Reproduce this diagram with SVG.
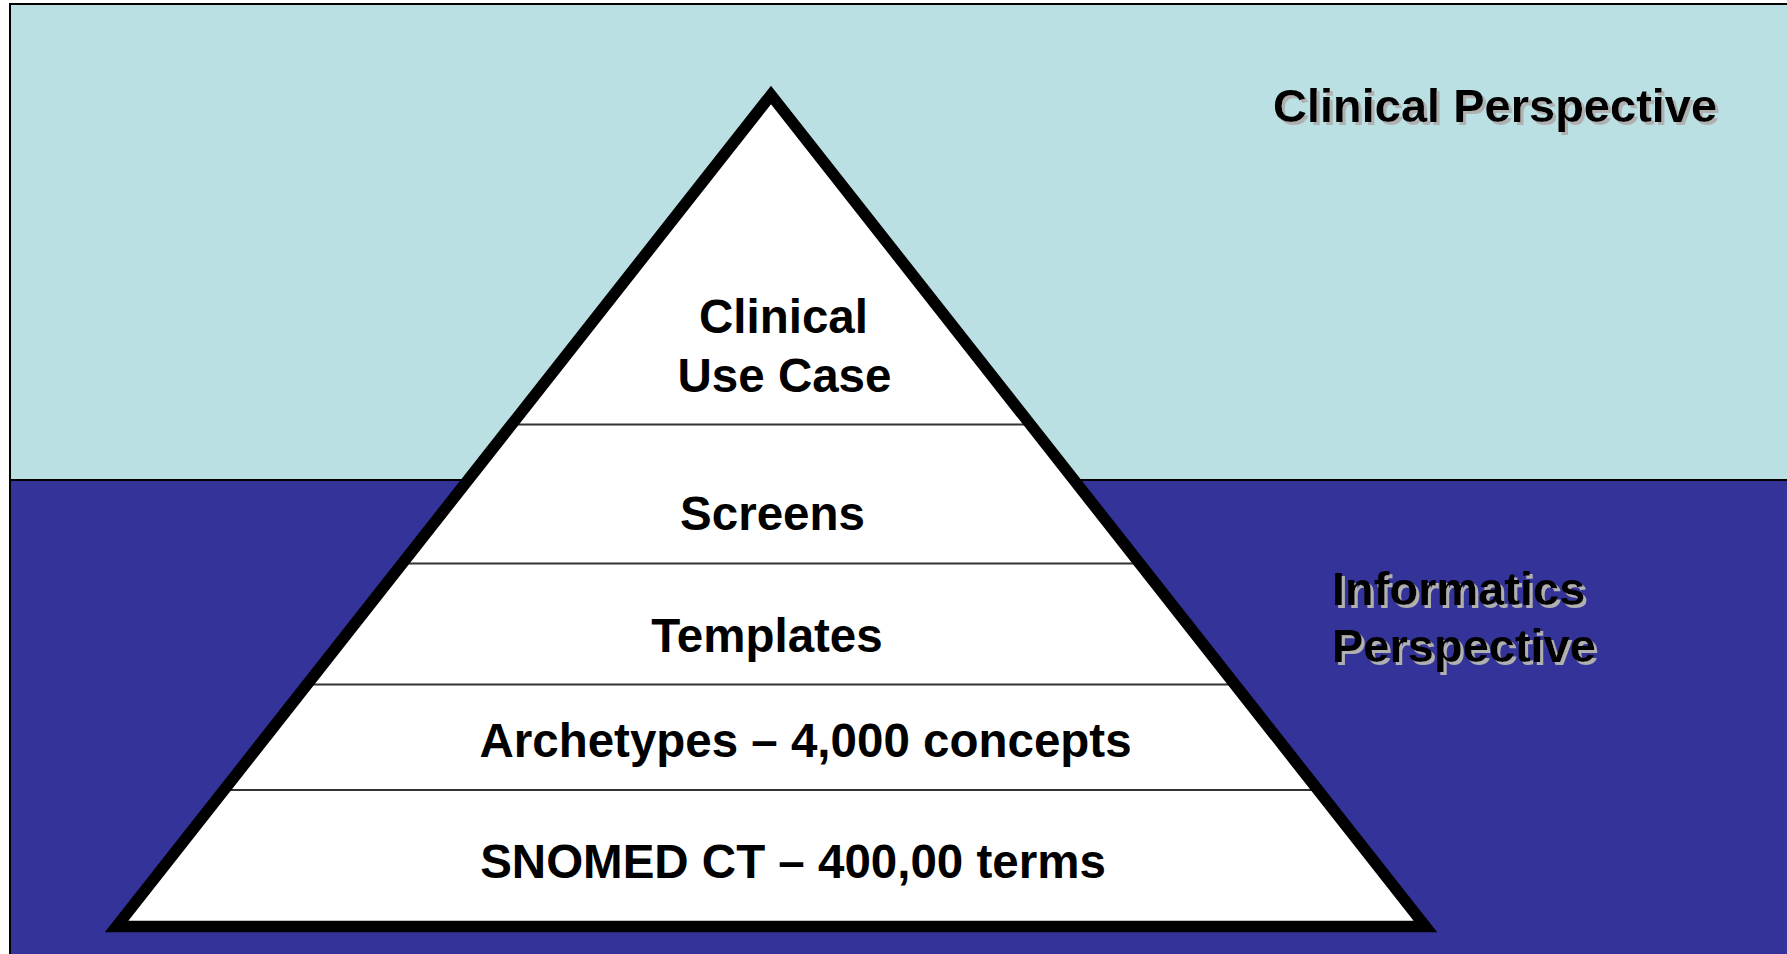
<svg xmlns="http://www.w3.org/2000/svg" width="1787" height="954" viewBox="0 0 1787 954">
  <defs>
    <style>
      .lbl { font-family: "Liberation Sans", Arial, sans-serif; font-weight: bold; font-size: 47.5px; fill: #000; }
      .tier { text-anchor: middle; }
      .persp { font-size: 47px; filter: url(#shadow); }
      .divider { stroke: #333; stroke-width: 2; }
      .edge { stroke: #000; stroke-width: 2; fill: none; }
    </style>
    <filter id="shadow" x="-5%" y="-20%" width="110%" height="150%">
      <feDropShadow dx="3" dy="3" stdDeviation="0" flood-color="#b0b0b0" flood-opacity="1"/>
    </filter>
  </defs>

  <!-- background bands -->
  <g id="bands">
    <rect x="0" y="0" width="1787" height="954" fill="#ffffff"/>
    <rect id="clinical-band" x="10" y="4" width="1790" height="476" fill="#BBE0E3"/>
    <rect id="informatics-band" x="10" y="480" width="1790" height="480" fill="#333399"/>
    <line class="edge" x1="9" y1="4" x2="1787" y2="4"/>
    <line class="edge" x1="10" y1="4" x2="10" y2="954"/>
    <line class="edge" x1="10" y1="480" x2="1787" y2="480"/>
  </g>

  <!-- pyramid -->
  <g id="pyramid">
    <polygon points="771,95 1425.4,926.5 116.6,926.5" fill="#ffffff"/>
    <line class="divider" x1="510" y1="424.5" x2="1032" y2="424.5"/>
    <line class="divider" x1="400" y1="563.5" x2="1142" y2="563.5"/>
    <line class="divider" x1="305" y1="684.5" x2="1237" y2="684.5"/>
    <line class="divider" x1="222" y1="790" x2="1320" y2="790"/>
    <polygon points="771,95 1425.4,926.5 116.6,926.5" fill="none" stroke="#000" stroke-width="11.5" stroke-linejoin="miter" stroke-miterlimit="10"/>
  </g>

  <g id="tier-use-case">
    <text class="lbl tier" x="783.5" y="333">Clinical</text>
    <text class="lbl tier" x="784.5" y="392">Use Case</text>
  </g>
  <g id="tier-screens">
    <text class="lbl tier" x="772.5" y="530">Screens</text>
  </g>
  <g id="tier-templates">
    <text class="lbl tier" x="767" y="651.5">Templates</text>
  </g>
  <g id="tier-archetypes">
    <text class="lbl tier" x="805.5" y="756.5">Archetypes – 4,000 concepts</text>
  </g>
  <g id="tier-snomed">
    <text class="lbl tier" x="793" y="878">SNOMED CT – 400,00 terms</text>
  </g>

  <!-- perspective labels -->
  <g id="clinical-perspective">
    <text class="lbl persp" x="1273" y="122">Clinical Perspective</text>
  </g>
  <g id="informatics-perspective">
    <text class="lbl persp" x="1332" y="605">Informatics</text>
    <text class="lbl persp" x="1332" y="661.5">Perspective</text>
  </g>
</svg>
